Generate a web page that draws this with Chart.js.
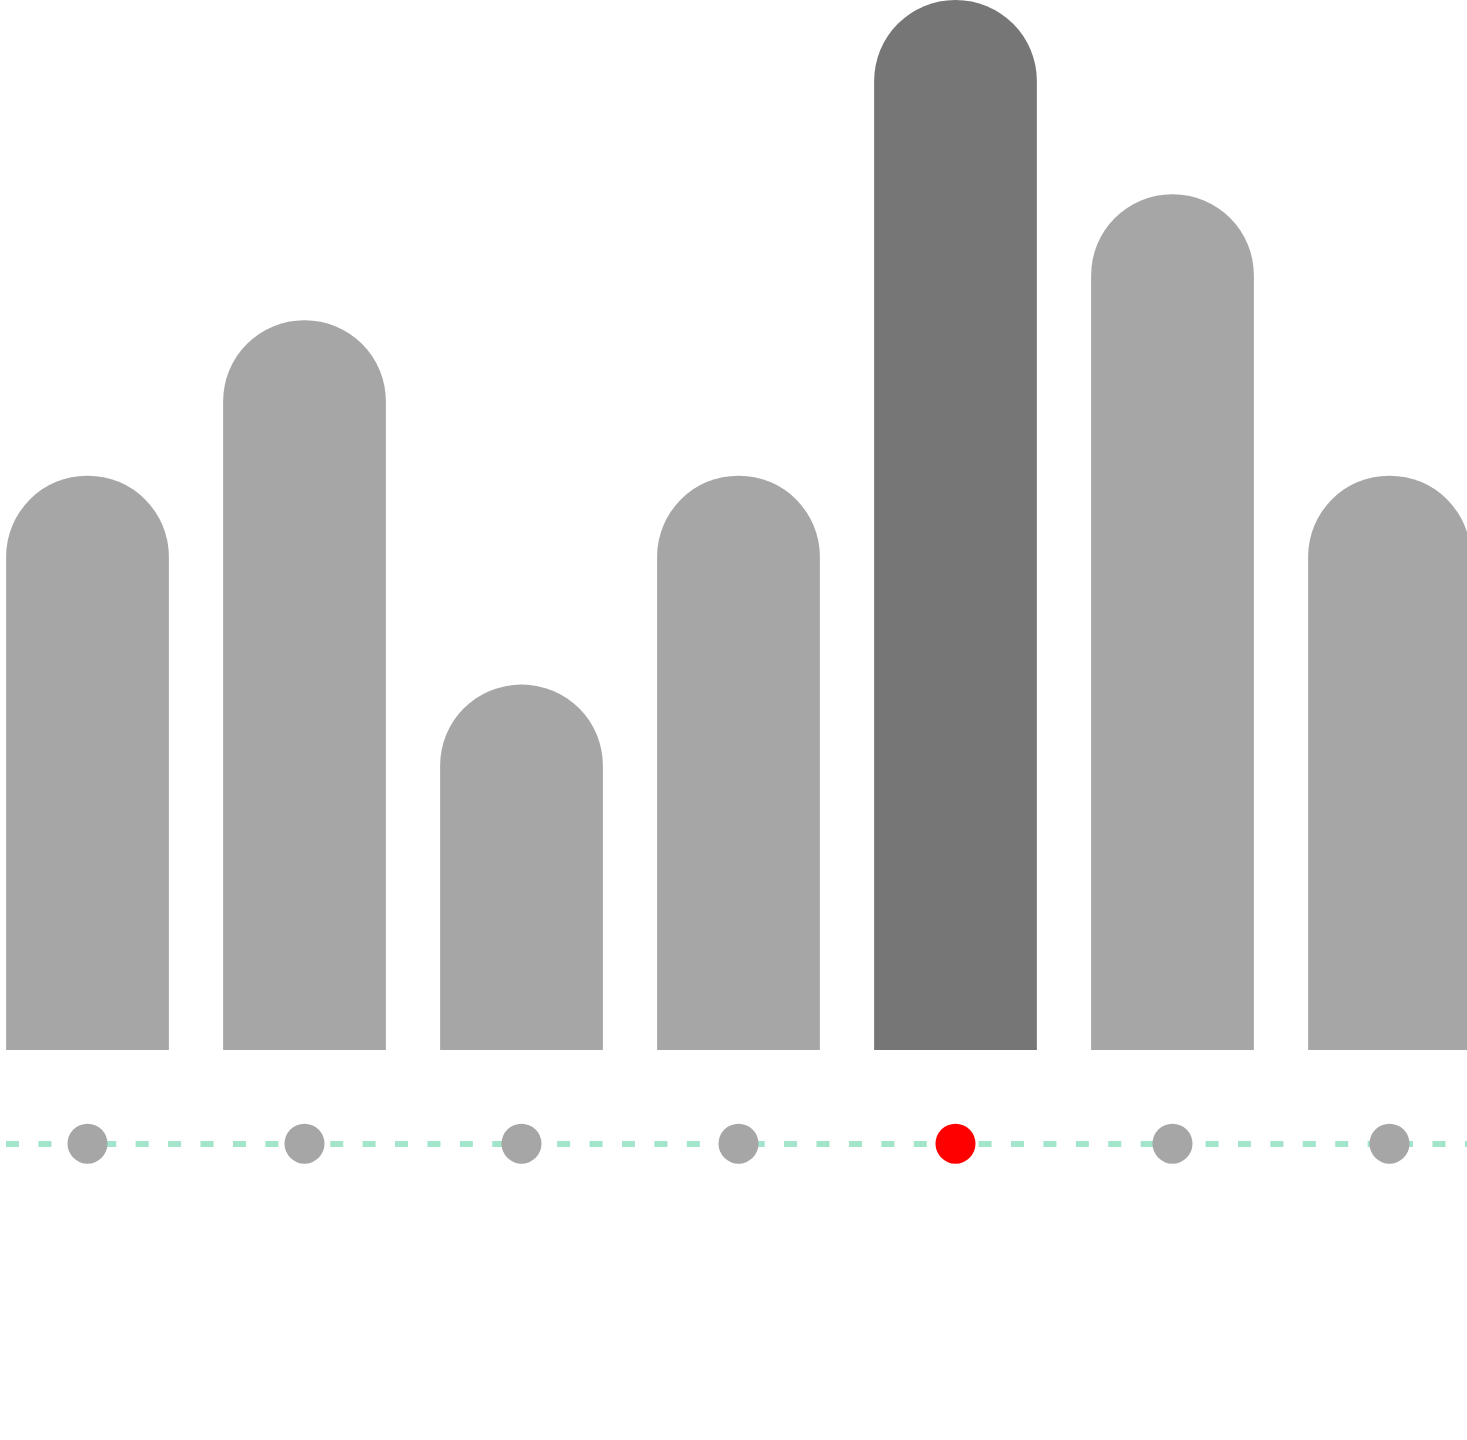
<!DOCTYPE html>
<html>
<head>
<meta charset="utf-8">
<script src="https://cdn.jsdelivr.net/npm/chart.js@4/dist/chart.umd.min.js"></script>
<style>
  html, body { margin: 0; padding: 0; background: #ffffff; overflow: hidden; width: 1467px; height: 1440px; }
  #wrap { position: absolute; left: -21px; top: 0; width: 1519px; height: 1440px; }
  canvas { display: block; }
</style>
</head>
<body>
<div id="wrap"><canvas id="c" width="1519" height="1440"></canvas></div>
<script>
// ---- data ----
const categories = ["1", "2", "3", "4", "5", "6", "7"];
const barValues = [54.7, 69.5, 34.8, 54.7, 100, 81.5, 54.7];
const markerValues = [-8.92, -8.92, -8.92, -8.92, -8.92, -8.92, -8.92];
const highlightIndex = 4;
const yMin = -37.14;
const yMax = 100;
const baselineValue = -8.92;

const barColors = barValues.map((v, i) => i === highlightIndex ? "#767676" : "#a6a6a6");
const dotColors = markerValues.map((v, i) => i === highlightIndex ? "#ff0000" : "#a6a6a6");

new Chart(document.getElementById("c"), {
  data: {
    labels: categories,
    datasets: [
      {
        type: "line",
        data: markerValues,
        showLine: false,
        pointRadius: 20,
        pointHoverRadius: 20,
        pointBorderWidth: 0,
        pointBackgroundColor: dotColors,
        pointBorderColor: dotColors,
        order: 0
      },
      {
        type: "bar",
        data: barValues,
        backgroundColor: barColors,
        borderWidth: 0,
        borderSkipped: "bottom",
        borderRadius: { topLeft: 81, topRight: 81, bottomLeft: 0, bottomRight: 0 },
        barPercentage: 0.75,
        categoryPercentage: 1,
        order: 1
      }
    ]
  },
  options: {
    responsive: false,
    devicePixelRatio: 1,
    animation: false,
    layout: { padding: 0, autoPadding: false },
    plugins: { legend: { display: false }, tooltip: { enabled: false } },
    scales: {
      x: {
        type: "category",
        display: false,
        offset: true
      },
      y: {
        type: "linear",
        min: yMin,
        max: yMax,
        position: "left",
        ticks: { display: false },
        border: { display: false, dash: [13, 19.42], dashOffset: 5.42 },
        afterBuildTicks: (scale) => { scale.ticks = [{ value: baselineValue }]; },
        grid: {
          drawTicks: false,
          tickLength: 0,
          color: "#a3e5cb",
          lineWidth: 6
        }
      }
    }
  }
});
</script>
</body>
</html>
